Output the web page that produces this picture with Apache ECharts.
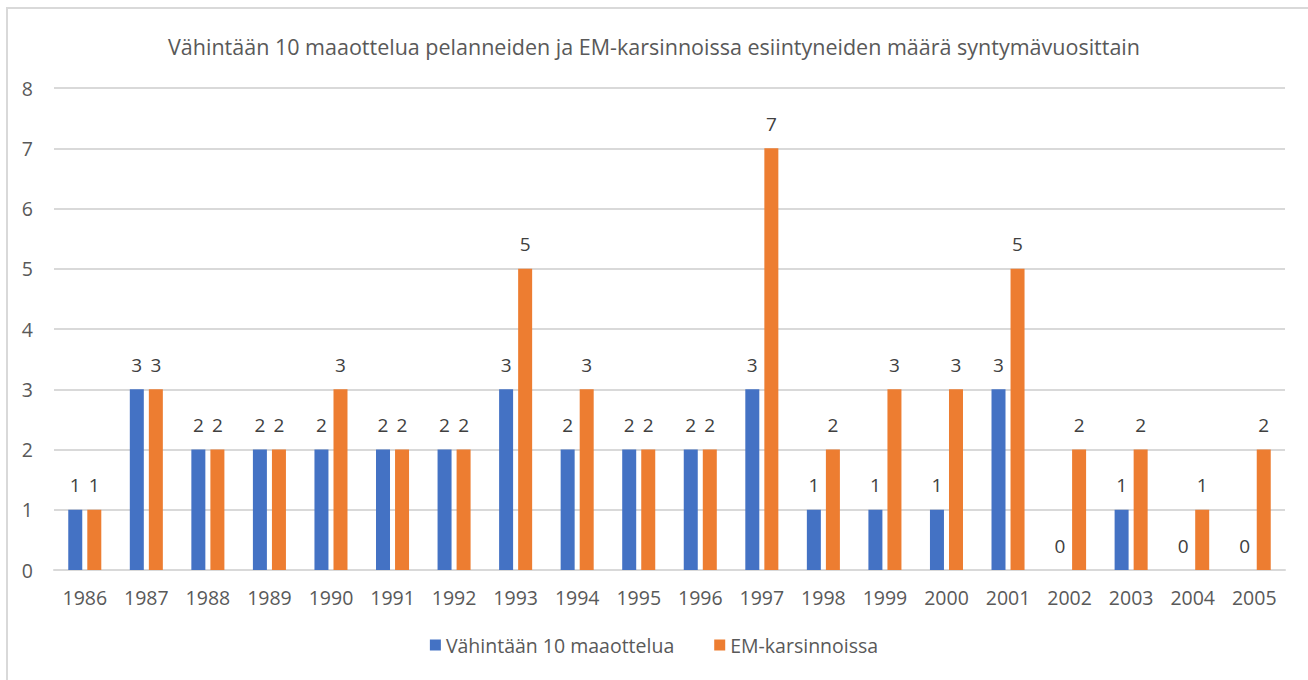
<!DOCTYPE html>
<html>
<head>
<meta charset="utf-8">
<script src="https://cdn.jsdelivr.net/npm/echarts@6/dist/echarts.min.js"></script>
<style>
  html, body { margin: 0; padding: 0; background: #fff; }
  #frame { position: absolute; left: 6px; top: 7px; width: 1320px; height: 700px; border: 2px solid #d9d9d9; box-sizing: border-box; }
  #chart { position: absolute; left: 0; top: 0; width: 1308px; height: 680px; }
</style>
</head>
<body>
<div id="frame"></div>
<div id="chart"></div>
<script>
var years = ['1986', '1987', '1988', '1989', '1990', '1991', '1992', '1993', '1994', '1995',
  '1996', '1997', '1998', '1999', '2000', '2001', '2002', '2003', '2004', '2005'];
var maaottelua = [1, 3, 2, 2, 2, 2, 2, 3, 2, 2, 2, 3, 1, 1, 1, 3, 0, 1, 0, 0];
var karsinnoissa = [1, 3, 2, 2, 3, 2, 2, 5, 3, 2, 2, 7, 2, 3, 3, 5, 2, 2, 1, 2];

var font = 'Open Sans';
var textColor = '#595959';

var chart = echarts.init(document.getElementById('chart'), null, { renderer: 'svg' });
var labelStyle = {
  show: true,
  position: 'top',
  distance: 15,
  color: '#404040',
  fontFamily: font,
  fontSize: 19
};
chart.setOption({
  animation: false,
  backgroundColor: 'transparent',
  title: {
    text: 'Vähintään 10 maaottelua pelanneiden ja EM-karsinnoissa esiintyneiden määrä syntymävuosittain',
    left: 'center',
    top: 30,
    textStyle: { color: textColor, fontFamily: font, fontSize: 21.5, fontWeight: 'normal' }
  },
  legend: {
    bottom: 20,
    left: 'center',
    itemWidth: 11,
    itemHeight: 11,
    itemGap: 40,
    icon: 'rect',
    textStyle: { color: textColor, fontFamily: font, fontSize: 19.5 }
  },
  grid: { left: 54, right: 23, top: 88, bottom: 110 },
  xAxis: {
    type: 'category',
    data: years,
    axisLine: { lineStyle: { color: '#d9d9d9', width: 2 } },
    axisTick: { show: false },
    axisLabel: { color: textColor, fontFamily: font, fontSize: 19.5, margin: 17 }
  },
  yAxis: {
    type: 'value',
    min: 0,
    max: 8,
    interval: 1,
    axisLine: { show: false },
    axisTick: { show: false },
    axisLabel: { color: textColor, fontFamily: font, fontSize: 19.5, margin: 21 },
    splitLine: { lineStyle: { color: '#d9d9d9', width: 2 } }
  },
  series: [
    {
      name: 'Vähintään 10 maaottelua',
      type: 'bar',
      data: maaottelua,
      barWidth: 14,
      barGap: '36%',
      itemStyle: { color: '#4472C4' },
      label: labelStyle
    },
    {
      name: 'EM-karsinnoissa',
      type: 'bar',
      data: karsinnoissa,
      barWidth: 14,
      barGap: '36%',
      itemStyle: { color: '#ED7D31' },
      label: labelStyle
    }
  ]
});
window.addEventListener('resize', function() { chart.resize(); });
</script>
</body>
</html>
